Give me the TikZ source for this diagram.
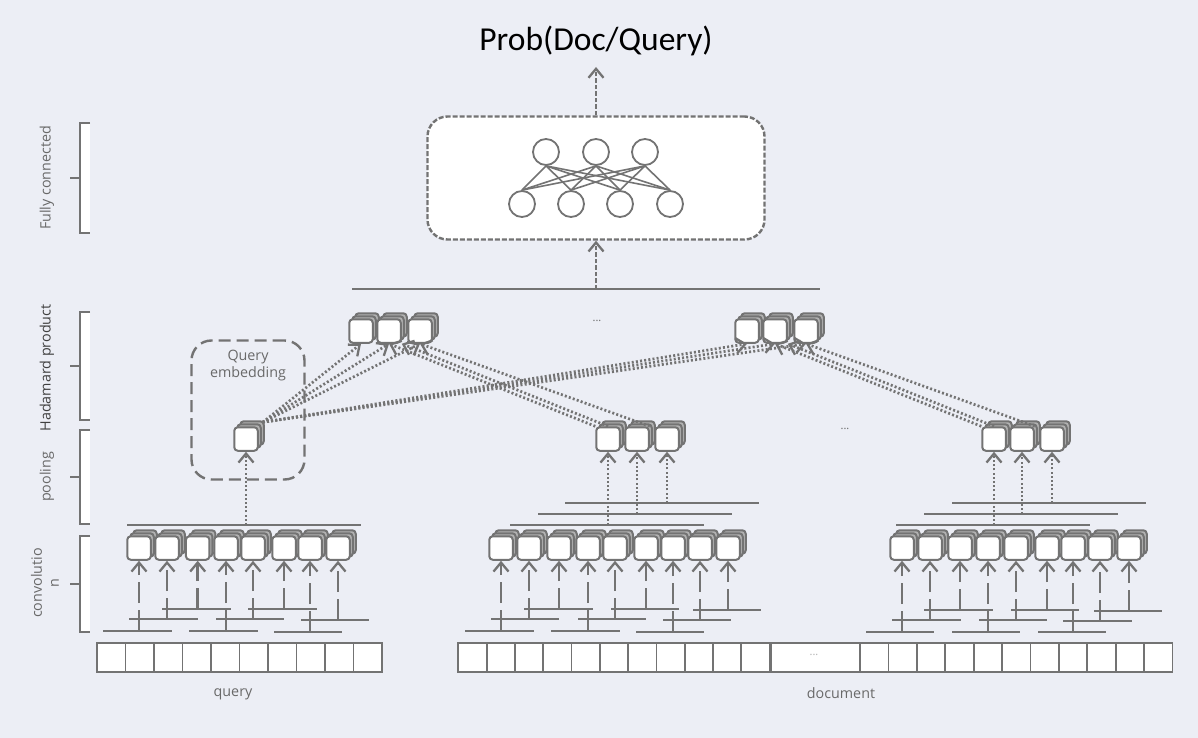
\documentclass[tikz,border=0pt]{standalone}
\usepackage{fontspec}
\setmainfont{Open Sans}
\newfontfamily\titlefont{Carlito}
\usetikzlibrary{positioning, arrows.meta, shadows}
\definecolor{bgcol}{RGB}{236,238,245}
\definecolor{linecol}{RGB}{115,115,115}
\definecolor{labelcol}{RGB}{105,105,105}
\tikzset{
    cube/.style={draw=linecol, line width=2pt, fill=white, rounded corners=3.5pt, minimum size=23.5pt, inner sep=0pt,
        double copy shadow={shadow xshift=3pt, shadow yshift=3pt, draw=linecol, fill=linecol!55!white}},
    barline/.style={fill=linecol, inner sep=0pt, minimum height=2.8pt},
    tokcell/.style={draw=linecol, line width=1.8pt, fill=white, inner sep=0pt, minimum height=29pt},
    band/.style={fill=white, inner sep=0pt, minimum width=10pt},
    brk/.style={draw=linecol, line width=1.8pt},
    neuron/.style={circle, draw=linecol, line width=1.8pt, inner sep=0pt, minimum size=26pt},
    tip/.style={-{Straight Barb[length=9pt, width=15pt, line width=2.3pt]}, draw=linecol},
    stem/.style={tip, line width=2.6pt, dash pattern=on 21pt off 7pt},
    dotarrow/.style={tip, line width=2.7pt, dash pattern=on 2pt off 2.2pt},
    dasharrow/.style={tip, line width=2.6pt, dash pattern=on 4.5pt off 2pt},
    txt/.style={text=labelcol, font=\fontsize{14.3}{17}\selectfont, align=center, inner sep=0pt},
    dotstxt/.style={txt, font=\fontsize{11}{11}\selectfont}
}
\begin{document}
\begin{tikzpicture}[x=1pt, y=-1pt]
    \path[fill=bgcol, use as bounding box] (0,0) rectangle (1198,738);

    \node[inner sep=0pt, font=\titlefont\fontsize{33.5}{38}\selectfont] (title) at (596,41) {Prob(Doc/Query)};
    \coordinate (out) at (596,67);

    \node[band, minimum height=110pt] (fcband) at (85,178) {};
    \node[band, minimum height=108pt] (hdband) at (85,366) {};
    \node[band, minimum height=94pt] (plband) at (85,477) {};
    \node[band, minimum height=96pt] (cvband) at (85,584) {};
    \foreach \b in {fcband, hdband, plband, cvband} {
        \draw[brk] (\b.north east) -- (\b.north west) -- (\b.south west) -- (\b.south east);
        \draw[brk] (\b.west) -- ++(-10,0);
    }
    \node[txt, rotate=90] (fclab) at (47,178) {Fully connected};
    \node[txt, rotate=90, text=black!75] (hdlab) at (47,368) {Hadamard product};
    \node[txt, rotate=90] (pllab) at (47,477) {pooling};
    \node[txt, rotate=90] (cvlab) at (45,583) {convolutio\\n};

    \node[draw=linecol, line width=2.4pt, dash pattern=on 5pt off 2pt, fill=white, rounded corners=20pt,
        minimum width=337pt, minimum height=123pt] (fc) at (596,178) {};
    \foreach \n/\x in {1/546, 2/596, 3/645}
        \node[neuron] (top\n) at (\x,152) {};
    \foreach \n/\x in {1/522, 2/571, 3/620, 4/670}
        \node[neuron] (low\n) at (\x,204) {};
    \foreach \a in {1,2,3}
        \foreach \b in {1,2,3,4}
            \draw[linecol, line width=1.6pt] (top\a.south) -- (low\b.north);
    \draw[dasharrow] (fc.north) -- (out);

    \node[barline, minimum width=468pt] (hbar) at (586,289) {};
    \draw[dasharrow] (fc.south |- hbar) -- (fc.south);

    \foreach \n/\x in {1/361, 2/389, 3/420, 4/747, 5/775, 6/806}
        \node[cube] (h\n) at (\x,331) {};
    \node[dotstxt] (dots1) at (597,321) {...};
    \node[dotstxt] (dots2) at (845,429) {...};

    \node[draw=linecol, line width=2.4pt, dash pattern=on 12pt off 6pt, rounded corners=20pt,
        minimum width=113pt, minimum height=139pt] (qebox) at (248,410) {};
    \node[txt] (qelab) at (248,366) {Query\\embedding};

    \node[cube] (pq) at (246,439) {};
    \foreach \n/\x in {1/608, 2/637, 3/667}
        \node[cube] (pa\n) at (\x,439) {};
    \foreach \n/\x in {1/994, 2/1022, 3/1052}
        \node[cube] (pb\n) at (\x,439) {};

    \node[barline, minimum width=234pt] (qtop) at (244,525) {};
    \draw[dotarrow] (pq.south |- qtop) -- (pq.south);
    \foreach \n/\x/\y in {1/607/525, 2/634.5/514, 3/662/503} {
        \node[barline, minimum width=194pt] (ta\n) at (\x,\y) {};
        \draw[dotarrow] (pa\n.south |- ta\n) -- (pa\n.south);
    }
    \foreach \n/\x/\y in {1/993/525, 2/1021/514, 3/1048.5/503} {
        \node[barline, minimum width=194pt] (tb\n) at (\x,\y) {};
        \draw[dotarrow] (pb\n.south |- tb\n) -- (pb\n.south);
    }

    \foreach \n in {1,...,6}
        \draw[dotarrow] ([xshift=4pt, yshift=4pt]pq.north east) -- (h\n.south);
    \draw[dotarrow] (pa2.north east) -- (h3.south);
    \draw[dotarrow] (pa1.north) -- (h2.south east);
    \draw[dotarrow] (pa1.north west) -- (h2.south);
    \draw[dotarrow] (pb2.north east) -- (h6.south);
    \draw[dotarrow] (pb1.north) -- (h5.south east);
    \draw[dotarrow] (pb1.north west) -- (h5.south);

    \foreach \n/\x/\bx/\by in {1/139/137.5/631, 2/167/163.5/619, 3/197.7/196.5/609, 4/226/223.5/631,
        5/253/250/619, 6/284/282.5/609, 7/310/308/632, 8/338/335/620,
        11/501/499.5/631, 12/529/525/619, 13/559/558.5/609, 14/588/585.5/631, 15/615/612/619,
        16/646/645/609, 17/673/670/632, 18/700/697/620, 19/728/727/610,
        21/902/900/632, 22/930/926.5/620, 23/960/958.5/610, 24/988/986/632, 25/1016/1013/620,
        26/1047/1045/610, 27/1073/1072/632, 28/1100/1097.5/621, 29/1129/1128/611} {
        \node[cube] (c\n) at (\x,548) {};
        \node[barline, minimum width=68.5pt] (b\n) at (\bx,\by) {};
        \draw[stem] (c\n.south |- b\n) -- (c\n.south);
    }

    \foreach \n in {0,...,9}
        \node[tokcell, minimum width=28.5pt] (qt\n) at (111.25+28.5*\n,657.5) {};
    \foreach \n in {0,...,10}
        \node[tokcell, minimum width=28.3pt] (da\n) at (472.5+28.3*\n,657.5) {};
    \node[tokcell, minimum width=89pt] (dgap) at (815.5,657.5) {};
    \foreach \n in {0,...,10}
        \node[tokcell, minimum width=28.4pt] (db\n) at (874.2+28.4*\n,657.5) {};
    \node[dotstxt, text=black!30] (dots3) at (814,655) {...};

    \node[txt] (qlab) at (233,694) {query};
    \node[txt] (dlab) at (841,693) {document};
\end{tikzpicture}
\end{document}
